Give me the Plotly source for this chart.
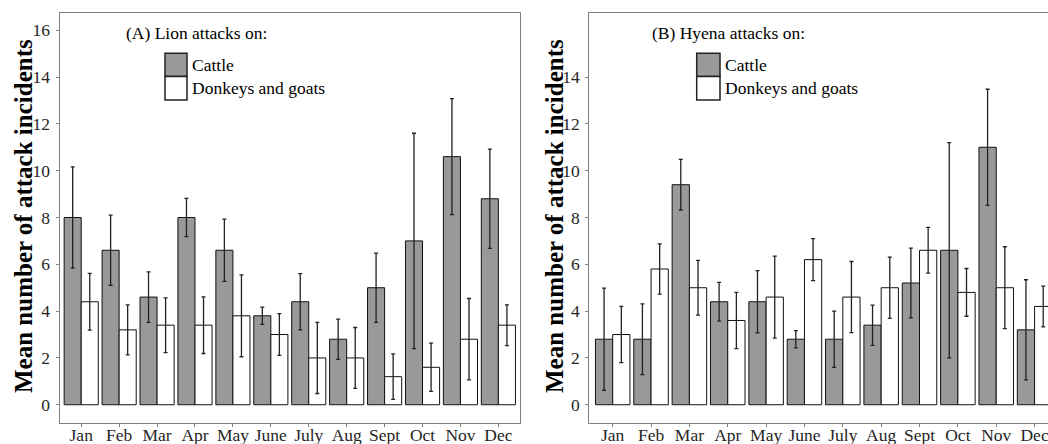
import plotly.graph_objects as go

months = ["Jan", "Feb", "Mar", "Apr", "May", "June", "July", "Aug", "Sept", "Oct", "Nov", "Dec"]

lion_cattle = [8.0, 6.6, 4.6, 8.0, 6.6, 3.8, 4.4, 2.8, 5.0, 7.0, 10.6, 8.8]
lion_cattle_err = [2.16, 1.5, 1.08, 0.82, 1.33, 0.37, 1.2, 0.86, 1.48, 4.6, 2.48, 2.12]
lion_donkeys = [4.4, 3.2, 3.4, 3.4, 3.8, 3.0, 2.0, 2.0, 1.2, 1.6, 2.8, 3.4]
lion_donkeys_err = [1.21, 1.07, 1.17, 1.21, 1.75, 0.89, 1.52, 1.3, 0.97, 1.03, 1.74, 0.87]

hyena_cattle = [2.8, 2.8, 9.4, 4.4, 4.4, 2.8, 2.8, 3.4, 5.2, 6.6, 11.0, 3.2]
hyena_cattle_err = [2.18, 1.51, 1.08, 0.83, 1.33, 0.37, 1.2, 0.86, 1.49, 4.6, 2.48, 2.14]
hyena_donkeys = [3.0, 5.8, 5.0, 3.6, 4.6, 6.2, 4.6, 5.0, 6.6, 4.8, 5.0, 4.2]
hyena_donkeys_err = [1.2, 1.07, 1.17, 1.2, 1.75, 0.9, 1.52, 1.31, 0.98, 1.02, 1.75, 0.87]

series_names = ["Cattle", "Donkeys and goats"]
panel_titles = ["(A) Lion attacks on:", "(B) Hyena attacks on:"]
y_title = "Mean number of attack incidents"

FONT = "Liberation Serif"
GREY = "#999999"
FRAME = "#808080"
W, H = 1048, 444

fig = go.Figure()

panels = [
    ("x", "y", lion_cattle, lion_cattle_err, lion_donkeys, lion_donkeys_err),
    ("x2", "y2", hyena_cattle, hyena_cattle_err, hyena_donkeys, hyena_donkeys_err),
]
for xa, ya, c, ce, d, de in panels:
    fig.add_trace(go.Bar(
        x=months, y=c, xaxis=xa, yaxis=ya, name=series_names[0], showlegend=False,
        marker=dict(color=GREY, line=dict(color="#111111", width=1)),
        error_y=dict(type="data", array=ce, color="#222222", thickness=1.3, width=2),
        offsetgroup="c",
    ))
    fig.add_trace(go.Bar(
        x=months, y=d, xaxis=xa, yaxis=ya, name=series_names[1], showlegend=False,
        marker=dict(color="white", line=dict(color="#111111", width=1)),
        error_y=dict(type="data", array=de, color="#222222", thickness=1.3, width=2),
        offsetgroup="d",
    ))

# pixel geometry
top_px, bot_px = 12.7, 423.0
yd = [1 - bot_px / H, 1 - top_px / H]
L1, R1 = 59.6, 520.0
L2, R2 = 589.3, 1048.0
yrange = [-0.78, 16.75]

axis_common = dict(
    showline=True, linecolor=FRAME, linewidth=1, mirror=True, automargin=False,
    ticks="outside", ticklen=3, tickcolor=FRAME, showgrid=False, zeroline=False,
    tickfont=dict(family=FONT, size=17.5, color="#262626"),
)
xaxis_extra = dict(ticklabelstandoff=-7)
yaxis_extra = dict(ticklabelstandoff=2)

fig.update_layout(
    width=W, height=H,
    margin=dict(l=0, r=0, t=0, b=0, pad=0),
    paper_bgcolor="white", plot_bgcolor="white",
    barmode="group", bargap=0.1, bargroupgap=0,
    font=dict(family=FONT, color="#000000"),
    xaxis=dict(domain=[L1 / W, R1 / W], anchor="y", range=[-0.57, 11.57], **axis_common, **xaxis_extra),
    yaxis=dict(domain=yd, anchor="x", range=yrange, tickvals=list(range(0, 17, 2)), **axis_common, **yaxis_extra),
    xaxis2=dict(domain=[L2 / W, R2 / W], anchor="y2", range=[-0.61, 11.35], **axis_common, **xaxis_extra),
    yaxis2=dict(domain=yd, anchor="x2", range=yrange, tickvals=list(range(0, 15, 2)), **axis_common, **yaxis_extra),
)

annotations = []
shapes = []
legend_geo = [
    ("x", "y", L1, R1 - L1, 124, 165, 187, 190),
    ("x2", "y2", L2, 458.7, 650, 696.7, 720, 722.5),
]
ph = bot_px - top_px
for i, (xa, ya, left, width, tl, bl, br, ll) in enumerate(legend_geo):
    def fx(px):
        return (px - left) / width
    def fy(py):
        return 1 - (py - top_px) / ph
    annotations.append(dict(
        xref=f"{xa} domain", yref=f"{ya} domain", x=fx(tl), y=fy(33),
        text=panel_titles[i], showarrow=False, xanchor="left", yanchor="middle",
        font=dict(family=FONT, size=17.5, color="#000000"),
    ))
    boxes = [(53.3, 76.5, GREY), (76.5, 100, "white")]
    for j, (y0, y1, col) in enumerate(boxes):
        shapes.append(dict(
            type="rect", xref=f"{xa} domain", yref=f"{ya} domain",
            x0=fx(bl), x1=fx(br), y0=fy(y1), y1=fy(y0),
            fillcolor=col, line=dict(color="#222222", width=1.5),
        ))
        annotations.append(dict(
            xref=f"{xa} domain", yref=f"{ya} domain", x=fx(ll), y=fy((y0 + y1) / 2),
            text=series_names[j], showarrow=False, xanchor="left", yanchor="middle",
            font=dict(family=FONT, size=17.5, color="#000000"),
        ))

for cx in (23.5, 554.5):
    annotations.append(dict(
        xref="paper", yref="paper", x=cx / W, y=1 - 216.5 / H,
        text=f"<b>{y_title}</b>", showarrow=False, textangle=-90,
        xanchor="center", yanchor="middle",
        font=dict(family=FONT, size=25, color="#000000"),
    ))

fig.update_layout(annotations=annotations, shapes=shapes)

fig.write_html(
    "out.html",
    config={"displayModeBar": False},
    post_script="document.body.style.margin='0';document.body.style.overflow='hidden';",
)
